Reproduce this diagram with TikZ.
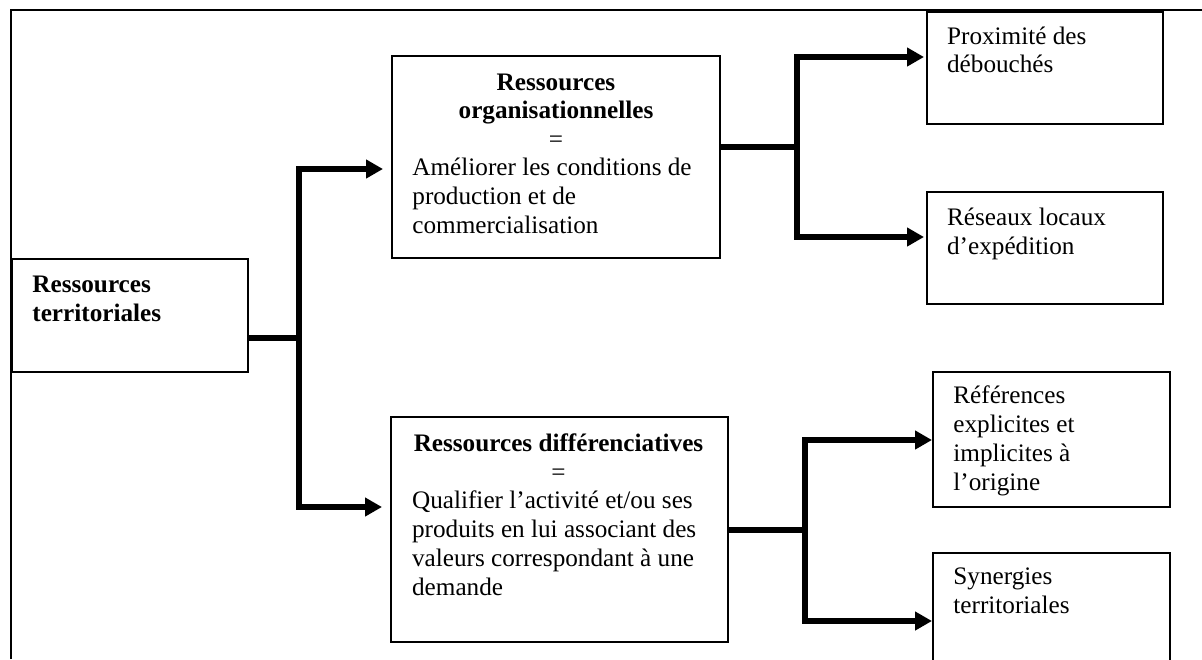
\documentclass[tikz,border=0pt]{standalone}
\usepackage{fontspec}
\setmainfont{Liberation Serif}
\usetikzlibrary{arrows.meta,fit}
\begin{document}
\begin{tikzpicture}[x=0.5pt,y=-0.5pt,
  box/.style={draw, line width=1pt, inner sep=0pt},
  txtfont/.style={font=\fontsize{12.6}{14.35}\selectfont},
  txt/.style={txtfont, anchor=base west, align=left, inner sep=0pt},
  ctxt/.style={txtfont, anchor=base, align=center, inner sep=0pt},
  conn/.style={line width=3.2pt, line join=miter},
  arr/.style={conn, -{Triangle[length=8.5pt,width=9pt]}}]
\useasboundingbox (0,0) rectangle (1202,659);
\clip (0,0) rectangle (1202,659);
% frame
\draw[line width=1pt] (11,659) -- (11,9.5) -- (1202,9.5);
% boxes
\node[box, fit={(12,259) (248,372)}] (terr) {};
\node[box, fit={(392,56) (720,258)}] (org) {};
\node[box, fit={(391,417) (728,642)}] (diff) {};
\node[box, fit={(927,12) (1163,124)}] (prox) {};
\node[box, fit={(927,192) (1163,304)}] (res) {};
\node[box, fit={(933,372) (1170,507)}] (ref) {};
\node[box, fit={(933,553) (1170,700)}] (syn) {};
% texts (base anchor = baseline of the last line)
\node[txt] (terrtxt) at (32,321) {\bfseries Ressources\\\bfseries territoriales};
\node[ctxt] (orgtitle) at (556,147.5) {\bfseries Ressources\\\bfseries organisationnelles\\=};
\node[txt] (orgtxt) at (412,233) {Améliorer les conditions de\\production et de\\commercialisation};
\node[ctxt] (difftitle) at (558.5,480) {\bfseries Ressources différenciatives\\=};
\node[txt] (difftxt) at (411.7,595) {Qualifier l’activité et/ou ses\\produits en lui associant des\\valeurs correspondant à une\\demande};
\node[txt] (proxtxt) at (946.7,72.7) {Proximité des\\débouchés};
\node[txt] (restxt) at (946.7,254) {Réseaux locaux\\d’expédition};
\node[txt] (reftxt) at (953,490) {Références\\explicites et\\implicites à\\l’origine};
\node[txt] (syntxt) at (953,613) {Synergies\\territoriales};
% junctions and levels
\coordinate (j1) at (299,338);
\coordinate (j2) at (797,147);
\coordinate (j3) at (805,530);
\coordinate (lorg) at (0,169);
\coordinate (ldiff) at (0,507);
\coordinate (lprox) at (0,57);
\coordinate (lres) at (0,237);
\coordinate (lref) at (0,440);
\coordinate (lsyn) at (0,621);
% connectors
\draw[conn] (terr.east |- j1) -- (j1);
\draw[arr, shorten >=4pt] (j1) |- (org.west |- lorg);
\draw[arr, shorten >=4pt] (j1) |- (diff.west |- ldiff);
\draw[conn] (org.east |- j2) -- (j2);
\draw[arr, shorten >=1pt] (j2) |- (prox.west |- lprox);
\draw[arr, shorten >=1pt] (j2) |- (res.west |- lres);
\draw[conn] (diff.east |- j3) -- (j3);
\draw[arr] (j3) |- (ref.west |- lref);
\draw[arr] (j3) |- (syn.west |- lsyn);
\end{tikzpicture}
\end{document}
